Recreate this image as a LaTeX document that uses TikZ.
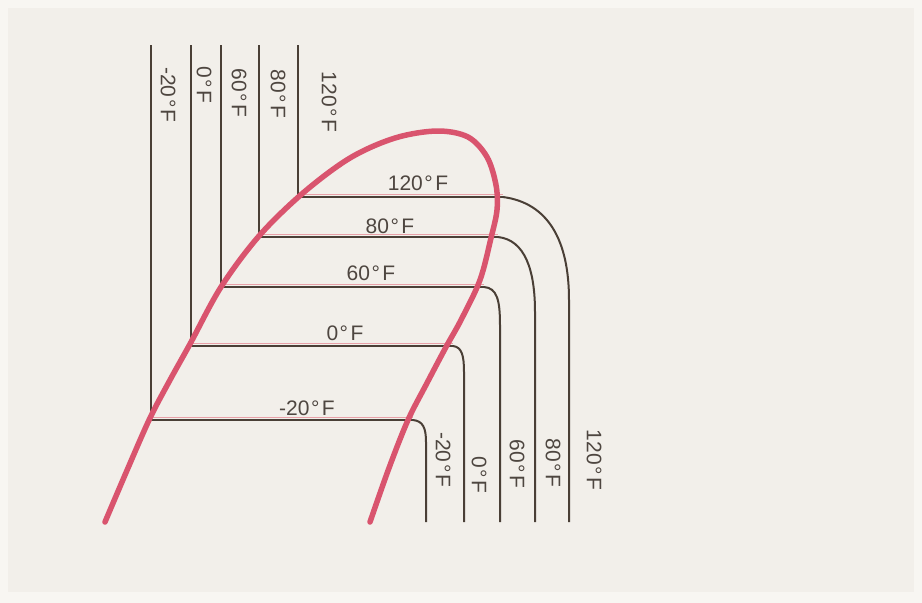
\documentclass[tikz,border=0pt]{standalone}
\usepackage{fontspec}
\setmainfont{Liberation Sans}
\definecolor{bgpaper}{HTML}{F2EFEA}
\definecolor{bgedge}{HTML}{F8F6F2}
\definecolor{inkline}{HTML}{4A3F36}
\definecolor{inktext}{HTML}{4E4640}
\definecolor{domered}{HTML}{D9546E}
\definecolor{fringe}{HTML}{E8A0A8}
\newcommand\tF[1]{#1\kern1.5pt°\kern2.5pt F}
\begin{document}
\begin{tikzpicture}[x=1pt,y=-1pt,
  isoline/.style={draw=inkline, line width=2pt},
  flatline/.style={draw=inkline, line width=2.8pt},
  fringeline/.style={draw=fringe, line width=1.2pt},
  dome/.style={draw=domered, line width=5.5pt, line cap=round, line join=round},
  lab/.style={font=\fontsize{21}{21}\selectfont, text=inktext, inner sep=0pt},
  vlab/.style={lab, rotate=-90}]
\useasboundingbox (0,0) rectangle (922,603);
\fill[bgedge] (0,0) rectangle (922,603);
\fill[bgpaper] (8,8) rectangle (914,592);

% tops of left verticals
\coordinate (Tm20) at (151,45);
\coordinate (T0)   at (191,45);
\coordinate (T60)  at (221,45);
\coordinate (T80)  at (259,45);
\coordinate (T120) at (298,45);
% left junctions (on saturation curve)
\coordinate (Lm20) at (151,420);
\coordinate (L0)   at (191,346);
\coordinate (L60)  at (221,287);
\coordinate (L80)  at (259,237);
\coordinate (L120) at (298,197);
% right ends of flat segments
\coordinate (Rm20) at (413,420);
\coordinate (R0)   at (453,346);
\coordinate (R60)  at (484,287);
\coordinate (R80)  at (498,237);
\coordinate (R120) at (503,197);
% bottoms of right verticals
\coordinate (Bm20) at (426,522);
\coordinate (B0)   at (464,522);
\coordinate (B60)  at (500,522);
\coordinate (B80)  at (535,522);
\coordinate (B120) at (569,522);

% left verticals
\foreach \t in {m20,0,60,80,120} \draw[isoline] (T\t) -- (L\t);

% flat segments with pinkish fringe
\foreach \t in {m20,0,60,80,120} {
  \draw[flatline] (L\t) -- (R\t);
  \draw[fringeline] ([yshift=2.2pt]L\t) -- ([yshift=2.2pt]R\t);
}

% right bends and verticals
\draw[isoline] (R120) .. controls (548,203) and (569,240) .. (569,300) -- (B120);
\draw[isoline] (R80) .. controls (525,240) and (535,270) .. (535,312) -- (B80);
\draw[isoline] (R60) .. controls (497,288) and (500,300) .. (500,325) -- (B60);
\draw[isoline] (R0) .. controls (462,347) and (464,356) .. (464,372) -- (B0);
\draw[isoline] (Rm20) .. controls (423,421) and (426,428) .. (426,442) -- (Bm20);

% saturation dome
\draw[dome] plot[smooth, tension=0.55] coordinates {
  (105,522) (128,468) (150,418) (170,380) (190,344) (221,287) (259,236)
  (303,193) (350,158) (395,138) (437,131) (468,137) (487,157) (496,185)
  (497,210) (491,238) (480,280) (461,320) (446,347) (427,383) (408,420)
  (389,468) (370,522)};

% labels on flat segments
\node[lab, anchor=base] (h120) at (418,190) {\tF{120}};
\node[lab, anchor=base] (h80)  at (390,233) {\tF{80}};
\node[lab, anchor=base] (h60)  at (371,280) {\tF{60}};
\node[lab, anchor=base] (h0)   at (345,340) {\tF{0}};
\node[lab, anchor=base] (hm20) at (307,415) {\tF{-20}};

% labels on left verticals
\node[vlab] (lm20) at (168,95)  {\tF{-20}};
\node[vlab] (l0)   at (204,85)  {\tF{0}};
\node[vlab] (l60)  at (239,93)  {\tF{60}};
\node[vlab] (l80)  at (278,94)  {\tF{80}};
\node[vlab] (l120) at (329,102) {\tF{120}};

% labels on right verticals
\node[vlab] (rm20) at (443,460) {\tF{-20}};
\node[vlab] (r0)   at (479,475) {\tF{0}};
\node[vlab] (r60)  at (517,464) {\tF{60}};
\node[vlab] (r80)  at (553,463) {\tF{80}};
\node[vlab] (r120) at (594,460) {\tF{120}};
\end{tikzpicture}
\end{document}
